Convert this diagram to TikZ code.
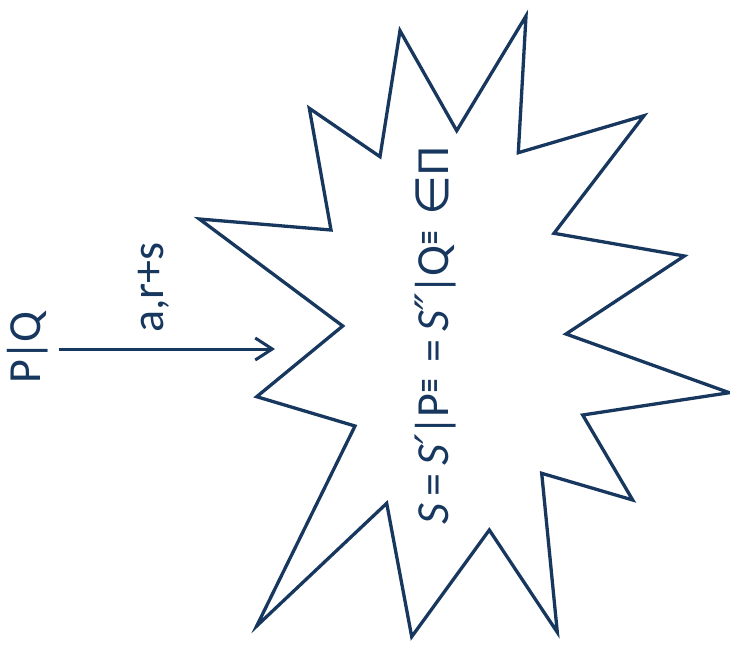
\documentclass[tikz,border=0pt]{standalone}
\usepackage{fontspec}
\usepackage{graphicx}
\setmainfont{Carlito}
\newfontfamily\symfont{DejaVu Sans}
\usetikzlibrary{arrows.meta}
\definecolor{navy}{RGB}{23,55,94}
\newcommand{\supeq}{\raisebox{8pt}{\scalebox{0.75}[1.4]{\fontsize{24}{24}\symfont≡}}}
\tikzset{
  starline/.style={draw=navy, line width=3.3pt, line join=miter, miter limit=20},
  conn/.style={draw=navy, line width=3pt, -{Straight Barb[length=17pt,width=22pt,line width=3pt]}},
  rotlabel/.style={rotate=90, anchor=base, text=navy, inner sep=0pt, font=\fontsize{46}{52}\selectfont},
}
\begin{document}
\begin{tikzpicture}[x=1pt,y=-1pt]
\useasboundingbox (0,0) rectangle (730,652);
% star
\draw[starline] (526,16) -- (456.7,130.7) -- (400,30.7) -- (380,156.7) -- (309.3,108.3)
  -- (331,230) -- (199.3,219) -- (342.7,326) -- (256.7,396.7) -- (355,426)
  -- (256.7,626) -- (386.7,503.3) -- (411.7,636.7) -- (489.3,530) -- (557.3,632.3)
  -- (541.7,473.3) -- (632.7,500) -- (582.7,415) -- (729.3,392.7) -- (566,334)
  -- (684.3,256) -- (554,233.3) -- (644,115.7) -- (518.3,152.7) -- cycle;
% texts
\node[rotlabel] (pq) at (40,347.5) {P\kern-2pt|\kern-2pt Q};
\node[rotlabel] (lab) at (163,287.5) {a,r+s};
\node[rotlabel] (eq) at (448,336) {\itshape S\upshape\,=\,\itshape S\/\symfont\char"2032\upshape\rmfamily\kern-2pt|\kern-2pt P\supeq\kern6pt\ =\,\itshape S\/\symfont\char"2033\upshape\rmfamily\kern-2pt|\kern-2pt Q\supeq\ \kern4pt{\symfont∈}Π};
\coordinate (tip) at (275,349);
\draw[conn] ([xshift=11pt]pq.south |- tip) -- (tip);
\end{tikzpicture}
\end{document}
